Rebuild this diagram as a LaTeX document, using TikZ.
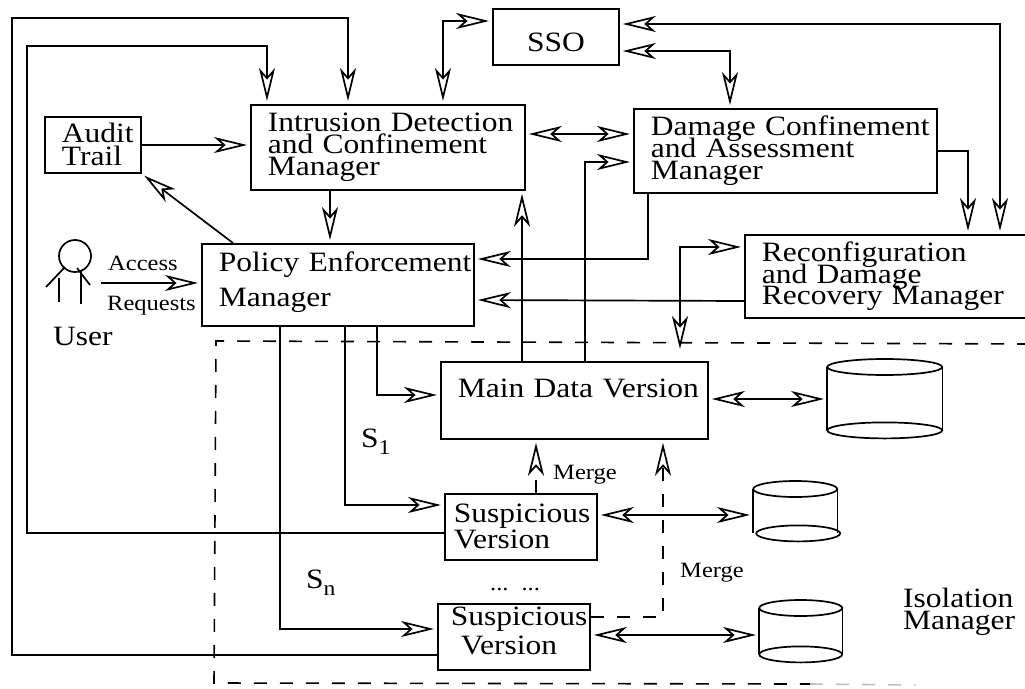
\documentclass[tikz,border=0pt]{standalone}
\usepackage{fontspec}
\setmainfont[FakeStretch=1.125]{Liberation Serif}
\usetikzlibrary{arrows.meta}
\newcommand{\lowd}[1]{\rule[-#1pt]{0pt}{#1pt}}
\newcommand{\tightlines}{\lineskiplimit -100pt\relax}
\tikzset{
  bigtext/.style={font={\fontsize{28}{#1}\selectfont\tightlines}},
  smalltext/.style={font=\fontsize{21.8}{26}\selectfont,inner sep=0pt},
  boxnode/.style={draw=black,line width=1.8pt,anchor=north west,inner sep=0pt,align=left},
  plain/.style={line width=1.7pt,line join=miter},
  opentip/.tip={Stealth[open,length=33pt,width=16pt,inset=9pt,line width=1.7pt]},
  arr/.style={plain,-opentip,shorten >=3pt},
  biarr/.style={plain,opentip-opentip,shorten >=3pt,shorten <=3pt},
  dasharr/.style={arr,dash pattern=on 13pt off 13pt},
  dashline/.style={line width=1.6pt,dash pattern=on 13pt off 13pt},
  dbbody/.style={minimum width=#1,inner sep=0pt,anchor=north west},
  dbline/.style={line width=1.7pt}
}
\begin{document}
\begin{tikzpicture}[x=1pt,y=-1pt]
\useasboundingbox (0,0) rectangle (1025,688);
\clip (0,0) rectangle (1025,688);

% boxes
\node[boxnode,bigtext=22,minimum width=126pt,minimum height=56pt,align=center] (sso) at (492,8) {\rule{0pt}{30pt}SSO};
\node[boxnode,bigtext=22,minimum width=274pt,minimum height=85pt,text width=240pt] (id) at (250,104)
  {\mbox{Intrusion Detection}\\and Confinement\\Manager};
\node[boxnode,bigtext=23,minimum width=96pt,minimum height=56pt,text width=62pt] (audit) at (44,116)
  {\mbox{Audit}\\Trail};
\node[boxnode,bigtext=35,minimum width=272pt,minimum height=82pt,text width=238pt] (pem) at (201,243)
  {\mbox{Policy Enforcement}\\Manager\lowd{12}};
\node[boxnode,bigtext=22,minimum width=303pt,minimum height=84pt,text width=269pt] (dam) at (633,108)
  {\mbox{Damage Confinement}\\and Assessment\\Manager};
\node[boxnode,bigtext=21.5,minimum width=300pt,minimum height=83pt,text width=266pt] (rec) at (744,234)
  {\mbox{Reconfiguration}\\and Damage\\\mbox{Recovery Manager}};
\node[boxnode,bigtext=22,minimum width=267pt,minimum height=77pt,text width=233pt] (main) at (440,361)
  {\mbox{Main Data Version}\lowd{24}};
\node[boxnode,bigtext=26,minimum width=152pt,minimum height=66pt,text width=134pt] (s1) at (444,493)
  {\mbox{Suspicious}\\Version};
\node[boxnode,bigtext=29,minimum width=152pt,minimum height=66pt,text width=126pt] (s2) at (437,603)
  {\mbox{Suspicious}\\\hspace*{10pt}Version\lowd{12}};

% databases
\node[dbbody=115pt,minimum height=63pt] (db1) at (827,367) {};
\node[dbbody=84pt,minimum height=44pt] (db2) at (753,489) {};
\node[dbbody=83pt,minimum height=46pt] (db3) at (759,608) {};
\draw[dbline] (db1.center |- db1.north) ellipse [x radius=57.5pt,y radius=8pt];
\draw[dbline] (db1.center |- db1.south) ellipse [x radius=57.5pt,y radius=8pt];
\draw[dbline] (db1.north west) -- (db1.south west) (db1.north east) -- (db1.south east);
\draw[dbline] (db2.center |- db2.north) ellipse [x radius=42pt,y radius=8pt];
\draw[dbline] ([xshift=3pt]db2.center |- db2.south) ellipse [x radius=42pt,y radius=8pt];
\draw[dbline] (db2.north west) -- (db2.south west) (db2.north east) -- (db2.south east);
\draw[dbline] (db3.center |- db3.north) ellipse [x radius=41.5pt,y radius=8pt];
\draw[dbline] (db3.center |- db3.south) ellipse [x radius=41.5pt,y radius=8pt];
\draw[dbline] (db3.north west) -- (db3.south west) (db3.north east) -- (db3.south east);

% user figure
\node[draw=black,line width=1.7pt,circle,minimum size=32pt,inner sep=0pt] (head) at (75,256) {};
\draw[plain] (65,267) -- (46,287);
\draw[plain] (77,268) -- (90,285);
\draw[plain] (59,278) -- (59,302);
\draw[plain] (81,271) -- (81,304);
\coordinate (userhand) at (101,283);

% isolation manager boundary
\coordinate (isoA) at (1030,344);
\coordinate (isoB) at (216,341);
\coordinate (isoC) at (214,683);
\coordinate (isoD) at (810,684);
\coordinate (isoE) at (915,685);
\draw[dashline] (isoA) -- (isoB) -- (isoC) -- (isoD);
\draw[dashline,draw=black!25] (isoD) -- (isoE);
\coordinate (isoTop) at (680,352);

% routing corners
\coordinate (outer) at (12,18);
\coordinate (inner) at (27,46);

% connectors
\draw[arr] ([yshift=-52pt]s2.north west) -| (outer) -| ([xshift=98pt]id.north west);
\draw[arr] ([yshift=-40pt]s1.north west) -| (inner) -| ([xshift=17pt]id.north west);
\draw[biarr] ([xshift=193pt]id.north west) |- ([yshift=-13pt]sso.north west);
\draw[biarr] ([yshift=-43pt]sso.north east) -| ([xshift=97pt]dam.north west);
\draw[biarr] ([yshift=-16pt]sso.north east) -| ([xshift=256pt]rec.north west);
\draw[biarr] ([yshift=-30pt]id.north east) -- ([yshift=-26pt]dam.north west);
\draw[arr] ([yshift=-29pt]audit.north east) -- ([yshift=-41pt]id.north west);
\draw[arr] ([xshift=32pt]pem.north west) -- (audit.south east);
\draw[arr] ([xshift=80pt]id.south west) -- ([xshift=129pt]pem.north west);
\draw[arr] (userhand) -- ([yshift=-40pt]pem.north west);
\draw[arr] ([xshift=15pt]dam.south west) |- ([yshift=-16pt]pem.north east);
\draw[arr] ([yshift=-67pt]rec.north west) -- ([yshift=-57pt]pem.north east);
\draw[arr] ([xshift=82pt]main.north west) -- ([xshift=272pt]id.south west);
\draw[arr] ([xshift=145pt]main.north west) |- ([yshift=-54pt]dam.north west);
\draw[arr] ([yshift=-43pt]dam.north east) -| ([xshift=224pt]rec.north west);
\draw[biarr] ([yshift=-13pt]rec.north west) -| (isoTop);
\draw[arr] ([xshift=176pt]pem.south west) |- ([yshift=-34pt]main.north west);
\draw[arr] ([xshift=144pt]pem.south west) |- ([yshift=-12pt]s1.north west);
\draw[arr] ([xshift=79pt]pem.south west) |- ([yshift=-26pt]s2.north west);
\draw[biarr] ([yshift=-38pt]main.north east) -- (db1.west |- 0,399);
\draw[biarr] ([yshift=-22pt]s1.north east) -- (db2.west |- 0,515);
\draw[biarr] ([yshift=-32pt]s2.north east) -- (db3.west |- 0,635);
\draw[dasharr] ([xshift=92pt]s1.north west) -- ([xshift=96pt]main.south west);
\draw[dasharr] ([yshift=-14pt]s2.north east) -| ([xshift=223pt]main.south west);

% labels
\node[smalltext,anchor=base west] (access) at (108,270) {Access};
\node[smalltext,anchor=base west] (requests) at (107,310) {Requests};
\node[bigtext=30,inner sep=0pt,anchor=base west] (user) at (53,345) {User};
\node[bigtext=30,inner sep=0pt,anchor=base west] (sone) at (361,447) {S\raisebox{-7pt}{\fontsize{21}{26}\selectfont 1}};
\node[bigtext=30,inner sep=0pt,anchor=base west] (sn) at (306,588) {S\raisebox{-7pt}{\fontsize{21}{26}\selectfont n}};
\node[smalltext,anchor=base west] (merge1) at (553,479) {Merge};
\node[smalltext,anchor=base west] (merge2) at (680,577) {Merge};
\node[smalltext,anchor=base west] (dots) at (490,590) {...\hspace{13pt}...};
\node[bigtext=22,inner sep=0pt,anchor=north west,align=left] (iso) at (903,588) {Isolation\\Manager};
\end{tikzpicture}
\end{document}
